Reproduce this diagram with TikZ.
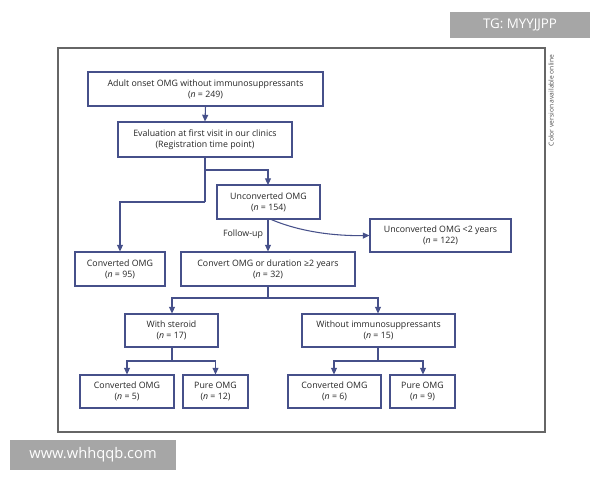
\documentclass[tikz,border=0pt]{standalone}
\usepackage{fontspec}
\setmainfont{Open Sans}
\usetikzlibrary{arrows.meta}
\definecolor{ln}{HTML}{46508A}
\begin{document}
\begin{tikzpicture}[x=0.75pt,y=-0.75pt,
  box/.style={draw=ln,line width=0.8pt,fill=white,inner sep=0pt,align=center,font=\fontsize{6.6}{8.2}\selectfont,text=black!85},
  ar/.style={draw=ln,line width=0.8pt,-{Triangle[length=5pt,width=4.5pt]}},
  li/.style={draw=ln,line width=0.8pt}]
\useasboundingbox (0,0) rectangle (600,480);
\draw[black!60,line width=0.8pt] (58,48) rectangle (545,432);
\node[rotate=90,font=\fontsize{5}{6}\selectfont,text=black!70,anchor=east] (cv) at (551,50) {Color version available online};
\node[fill=black!35,text=white,font=\fontsize{10}{12}\selectfont,minimum width=105pt,minimum height=19pt,inner sep=0pt] (tg) at (520,25) {TG: MYYJJPP};
\node[fill=black!35,text=white,font=\fontsize{11}{13}\selectfont,minimum width=125pt,minimum height=22pt,inner sep=0pt] (ww) at (93,455) {www.whhqqb.com};
\newcommand\bx[6]{\node[box,minimum width={(#4-#2)*0.75pt},minimum height={(#5-#3)*0.75pt}] (#1) at ({(#2+#4)/2},{(#3+#5)/2}) {#6};}
\bx{A}{88}{72}{323}{106}{Adult onset OMG without immunosuppressants\\(\textit{n} = 249)}
\bx{B}{118}{122}{292}{157}{Evaluation at first visit in our clinics\\(Registration time point)}
\bx{C}{217}{185}{320}{219}{Unconverted OMG\\(\textit{n} = 154)}
\bx{D}{370}{219}{511}{252}{Unconverted OMG <2 years\\(\textit{n} = 122)}
\bx{E}{75}{252}{165}{286}{Converted OMG\\(\textit{n} = 95)}
\bx{F}{181}{252}{355}{286}{Convert OMG or duration ≥2 years\\(\textit{n} = 32)}
\bx{G}{125}{314}{218}{347}{With steroid\\(\textit{n} = 17)}
\bx{H}{302}{314}{455}{347}{Without immunosuppressants\\(\textit{n} = 15)}
\bx{I}{80}{375}{174}{408}{Converted OMG\\(\textit{n} = 5)}
\bx{J}{183}{375}{248}{408}{Pure OMG\\(\textit{n} = 12)}
\bx{K}{288}{375}{381}{408}{Converted OMG\\(\textit{n} = 6)}
\bx{L}{390}{375}{455}{408}{Pure OMG\\(\textit{n} = 9)}
\coordinate (j1) at (205,170);
\coordinate (j2) at (205,202);
\coordinate (j3) at (268,298);
\coordinate (j4) at (172,361);
\coordinate (j5) at (378,361);
\draw[ar] (A.south) -- (B.north);
\draw[li] (B.south) -- (j2);
\draw[ar] (j1) -| (268,185);
\draw[ar] (j2) -| (E.north -| 120,0);
\draw[ar] (C.south -| 268,0) -- (F.north -| 268,0);
\node[font=\fontsize{6.6}{8}\selectfont,text=black!85] (fu) at (243,234) {Follow-up};
\draw[ar] (270,219) .. controls (300,232) and (335,236) .. (D.west);
\draw[li] (F.south -| 268,0) -- (j3);
\draw[ar] (j3) -| (G.north -| 172,0);
\draw[ar] (j3) -| (H.north -| 378,0);
\draw[li] (G.south -| 172,0) -- (j4);
\draw[ar] (j4) -| (I.north);
\draw[ar] (j4) -| (J.north);
\draw[li] (H.south -| 378,0) -- (j5);
\draw[ar] (j5) -| (K.north -| 334,0);
\draw[ar] (j5) -| (L.north -| 423,0);
\end{tikzpicture}
\end{document}
